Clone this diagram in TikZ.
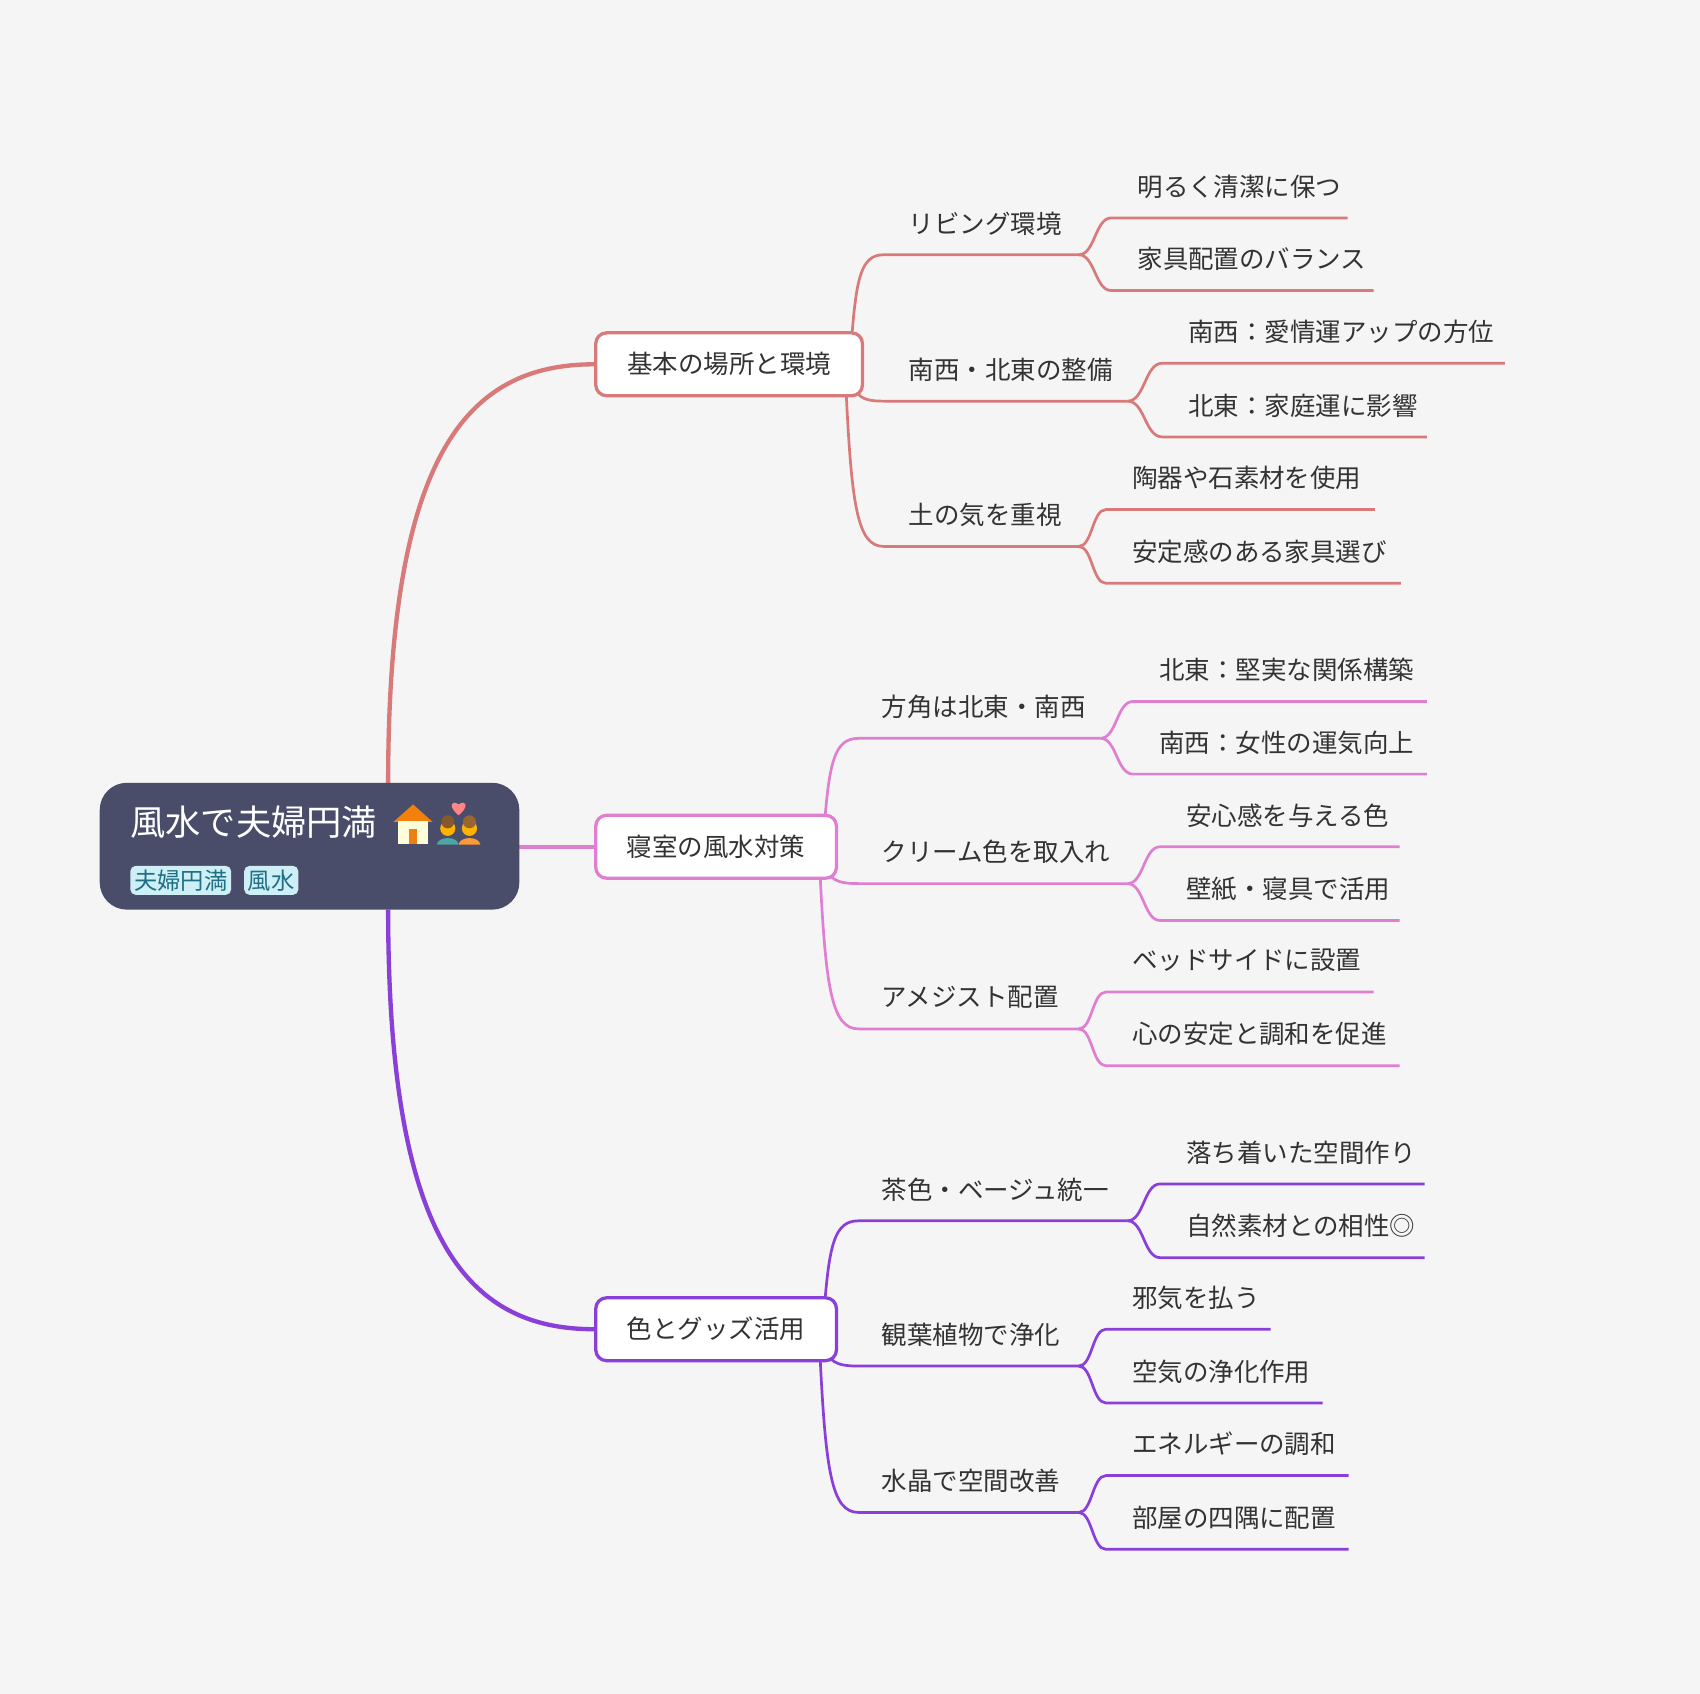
\documentclass[tikz,border=0pt]{standalone}
\usepackage{fontspec}
\setmainfont{Noto Sans CJK JP}
\definecolor{bg}{HTML}{F5F5F5}
\definecolor{ca}{HTML}{D97A7A}
\definecolor{cb}{HTML}{E07FD2}
\definecolor{cc}{HTML}{8A3FD9}
\definecolor{root}{HTML}{4A4D69}
\definecolor{tagf}{HTML}{CFEFF6}
\definecolor{tagt}{HTML}{1F6F86}
\definecolor{txt}{HTML}{333333}
\begin{document}
\begin{tikzpicture}[x=1pt,y=-1pt,
  txt/.style={anchor=west,text=txt,font=\fontsize{23.5}{25}\selectfont,inner sep=0pt},
  box/.style={draw,line width=3pt,fill=white,rounded corners=10pt,minimum height=58pt,inner xsep=24pt,text=txt,font=\fontsize{23.5}{25}\selectfont},
  tag/.style={fill=tagf,rounded corners=5pt,text=tagt,inner sep=3.5pt,font=\fontsize{21.5}{23}\selectfont}]
\newcommand\midbr[8]{% color,x0,y0,xs,y,xe,tx,text
  \draw[#1,line width=2.5pt] (#2,#3) .. controls ({#2+(#4-#2)*0.15},{#3+(#5-#3)*0.75}) and ({#2+(#4-#2)*0.3},#5) .. (#4,#5) -- (#6,#5);
  \node[txt] at (#7,#5-29) {#8};}
\newcommand\leaf[7]{% color,x0,y0,xs,y,xe,text
  \draw[#1,line width=2.5pt] (#2,#3) .. controls ({#2+(#4-#2)*0.5},#3) and ({#2+(#4-#2)*0.5},#5) .. (#4,#5) -- (#6,#5);
  \node[txt] at (#4+24,#5-29) {#7};}
\fill[bg] (0,0) rectangle (1568,1562);
\useasboundingbox (0,0) rectangle (1568,1562);
% root connectors
\coordinate (r1) at (358,722); \coordinate (r3) at (358,839);
\draw[ca,line width=4pt] (r1) .. controls (358,420) and (430,336) .. (548,336);
\draw[cb,line width=4pt] (479,781) -- (548,781);
\draw[cc,line width=4pt] (r3) .. controls (358,1142) and (430,1226) .. (548,1226);
% root
\fill[root,rounded corners=25pt] (92,722) rectangle (479,839);
\node[anchor=west,text=white,font=\fontsize{32.5}{34}\selectfont,inner sep=0pt] (rt) at (120,758) {風水で夫婦円満};
% house emoji
\fill[orange!80!brown] (363,758) -- (381,742) -- (399,758) -- cycle;
\fill[white!85!yellow] (367,757) rectangle (395,778);
\fill[orange!70!brown] (377,765) rectangle (385,778);
% couple emoji
\fill[pink!70!red] (423,752) .. controls (413,744) and (416,737) .. (423,742) .. controls (430,737) and (433,744) .. (423,752);
\fill[orange!60!yellow] (413,764) circle (7); \fill[orange!60!yellow] (433,764) circle (7);
\fill[brown!70!black] (413,758) circle (6); \fill[brown!80!black] (433,758) circle (6);
\fill[teal!70] (403,779) .. controls (404,771) and (422,771) .. (423,779) -- cycle;
\fill[orange!80] (423,779) .. controls (424,771) and (442,771) .. (443,779) -- cycle;
\node[tag,anchor=west] (t1) at (120,812) {夫婦円満};
\node[tag,anchor=west] (t2) at (225,812) {風水};
% branch 1
\midbr{ca}{785}{320}{815}{235}{995}{838}{リビング環境}
\leaf{ca}{995}{235}{1025}{201}{1243}{明るく清潔に保つ}
\leaf{ca}{995}{235}{1025}{268}{1267}{家具配置のバランス}
\midbr{ca}{785}{350}{815}{370}{1040}{838}{南西・北東の整備}
\leaf{ca}{1040}{370}{1072}{335}{1388}{南西：愛情運アップの方位}
\leaf{ca}{1040}{370}{1072}{403}{1316}{北東：家庭運に影響}
\midbr{ca}{780}{352}{815}{504}{995}{838}{土の気を重視}
\leaf{ca}{995}{504}{1020}{470}{1268}{陶器や石素材を使用}
\leaf{ca}{995}{504}{1020}{538}{1292}{安定感のある家具選び}
% branch 2
\midbr{cb}{760}{766}{792}{681}{1015}{813}{方角は北東・南西}
\leaf{cb}{1015}{681}{1045}{647}{1316}{北東：堅実な関係構築}
\leaf{cb}{1015}{681}{1045}{714}{1316}{南西：女性の運気向上}
\midbr{cb}{760}{796}{792}{815}{1040}{813}{クリーム色を取入れ}
\leaf{cb}{1040}{815}{1070}{781}{1291}{安心感を与える色}
\leaf{cb}{1040}{815}{1070}{849}{1291}{壁紙・寝具で活用}
\midbr{cb}{756}{798}{792}{949}{995}{813}{アメジスト配置}
\leaf{cb}{995}{949}{1020}{915}{1267}{ベッドサイドに設置}
\leaf{cb}{995}{949}{1020}{983}{1291}{心の安定と調和を促進}
% branch 3
\midbr{cc}{760}{1211}{792}{1126}{1040}{813}{茶色・ベージュ統一}
\leaf{cc}{1040}{1126}{1070}{1092}{1314}{落ち着いた空間作り}
\leaf{cc}{1040}{1126}{1070}{1160}{1314}{自然素材との相性◎}
\midbr{cc}{760}{1241}{792}{1260}{995}{813}{観葉植物で浄化}
\leaf{cc}{995}{1260}{1020}{1226}{1172}{邪気を払う}
\leaf{cc}{995}{1260}{1020}{1294}{1220}{空気の浄化作用}
\midbr{cc}{756}{1243}{792}{1395}{995}{813}{水晶で空間改善}
\leaf{cc}{995}{1395}{1020}{1361}{1244}{エネルギーの調和}
\leaf{cc}{995}{1395}{1020}{1429}{1244}{部屋の四隅に配置}
% boxes on top
\node[box,draw=ca,anchor=west,minimum width=246pt] (b1) at (548,336) {基本の場所と環境};
\node[box,draw=cb,anchor=west,minimum width=222pt] (b2) at (548,781) {寝室の風水対策};
\node[box,draw=cc,anchor=west,minimum width=222pt] (b3) at (548,1226) {色とグッズ活用};
\end{tikzpicture}
\end{document}
